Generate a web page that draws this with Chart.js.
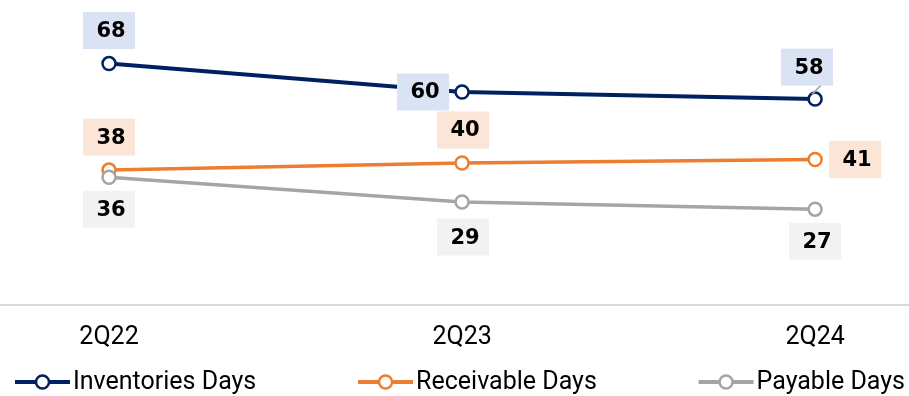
<!DOCTYPE html>
<html>
<head>
<meta charset="utf-8">
<script src="https://cdn.jsdelivr.net/npm/chart.js@4.4.0/dist/chart.umd.min.js"></script>
<style>
  html, body { margin: 0; padding: 0; background: #fff; }
  #wrap { width: 909px; height: 396px; }
</style>
</head>
<body>
<div id="wrap"><canvas id="myChart"></canvas></div>
<script>
// chart data
const categories = ["2Q22", "2Q23", "2Q24"];
const seriesNames = ["Inventories Days", "Receivable Days", "Payable Days"];
const inventoriesDays = [68, 60, 58];
const receivableDays = [38, 40, 41];
const payableDays = [36, 29, 27];

const lineColors = ["#002060", "#ED7D31", "#A5A5A5"];
const boxColors = ["#DAE3F3", "#FBE5D6", "#F2F2F2"];
// where each value box sits, relative to its point
const labelOffsets = [
  [[0, -33], [-39, 0], [-8, -32]],
  [[0, -33], [1, -33], [40, 0]],
  [[0, 32], [1, 35], [0, 32]]
];

const tickFont = "Roboto";
const labelFont = "bold 21px 'DejaVu Sans'";

function toPoints(values) {
  return values.map((v, i) => ({ x: i, y: v }));
}

// value boxes drawn on top of the lines
const valueBoxes = {
  id: "valueBoxes",
  afterDatasetsDraw(chart) {
    const ctx = chart.ctx;
    ctx.save();
    ctx.font = labelFont;
    ctx.textAlign = "center";
    ctx.textBaseline = "middle";
    chart.data.datasets.forEach((ds, i) => {
      const meta = chart.getDatasetMeta(i);
      meta.data.forEach((pt, j) => {
        const off = labelOffsets[i][j];
        const cx = pt.x + off[0];
        const cy = pt.y + off[1];
        // small leader line for the last inventories label
        if (i === 0 && j === 2) {
          ctx.strokeStyle = "#A5A5A5";
          ctx.lineWidth = 1.5;
          ctx.beginPath();
          ctx.moveTo(cx + 14, cy + 18);
          ctx.lineTo(pt.x - 3, pt.y - 5);
          ctx.stroke();
        }
        ctx.fillStyle = boxColors[i];
        ctx.fillRect(cx - 26, cy - 18.5, 52, 37);
        ctx.fillStyle = "#000";
        ctx.fillText(String(ds.data[j].y), cx + 2, cy + 1);
      });
    });
    ctx.restore();
  }
};

// legend spread across the bottom
const bottomLegend = {
  id: "bottomLegend",
  afterDraw(chart) {
    const ctx = chart.ctx;
    ctx.save();
    ctx.font = "25px " + tickFont;
    ctx.textBaseline = "middle";
    const markW = 55, gapText = 3;
    const widths = seriesNames.map((n) => markW + gapText + ctx.measureText(n).width);
    const left = 15, right = 905;
    const total = widths.reduce((a, b) => a + b, 0);
    const gap = (right - left - total) / (seriesNames.length - 1);
    const y = 382;
    let x = left;
    seriesNames.forEach((name, i) => {
      ctx.strokeStyle = lineColors[i];
      ctx.lineWidth = 4;
      ctx.beginPath();
      ctx.moveTo(x, y);
      ctx.lineTo(x + markW, y);
      ctx.stroke();
      ctx.beginPath();
      ctx.arc(x + markW / 2, y, 6.5, 0, Math.PI * 2);
      ctx.fillStyle = "#fff";
      ctx.fill();
      ctx.lineWidth = 2.5;
      ctx.stroke();
      ctx.fillStyle = "#000";
      ctx.fillText(name, x + markW + gapText, y + 1);
      x += widths[i] + gap;
    });
    ctx.restore();
  }
};

const allSeries = [inventoriesDays, receivableDays, payableDays];
const drawOrder = [1, 2, 0];

const myChart = new Chart("myChart", {
  type: "line",
  data: {
    datasets: allSeries.map((vals, i) => ({
      label: seriesNames[i],
      data: toPoints(vals),
      borderColor: lineColors[i],
      borderWidth: i === 0 ? 4 : 3.5,
      pointRadius: 6.5,
      pointBorderWidth: 2.5,
      pointBackgroundColor: "#fff",
      pointBorderColor: lineColors[i],
      tension: 0,
      order: drawOrder[i],
      clip: false
    }))
  },
  options: {
    responsive: true,
    maintainAspectRatio: false,
    animation: false,
    layout: { autoPadding: false, padding: { top: 21, bottom: 25, left: 0, right: 0 } },
    plugins: {
      legend: { display: false },
      tooltip: { enabled: false }
    },
    scales: {
      x: {
        type: "linear",
        min: -0.3088,
        max: 2.266,
        grid: { display: false, drawTicks: false },
        border: { display: true, color: "#D9D9D9", width: 2 },
        afterBuildTicks: (scale) => {
          scale.ticks = categories.map((c, i) => ({ value: i }));
        },
        ticks: {
          font: { family: tickFont, size: 25 },
          color: "#000",
          padding: 18,
          maxRotation: 0,
          autoSkip: false,
          callback: (v) => categories[v]
        }
      },
      y: {
        display: false,
        min: 0,
        max: 80
      }
    }
  },
  plugins: [valueBoxes, bottomLegend]
});
</script>
</body>
</html>
